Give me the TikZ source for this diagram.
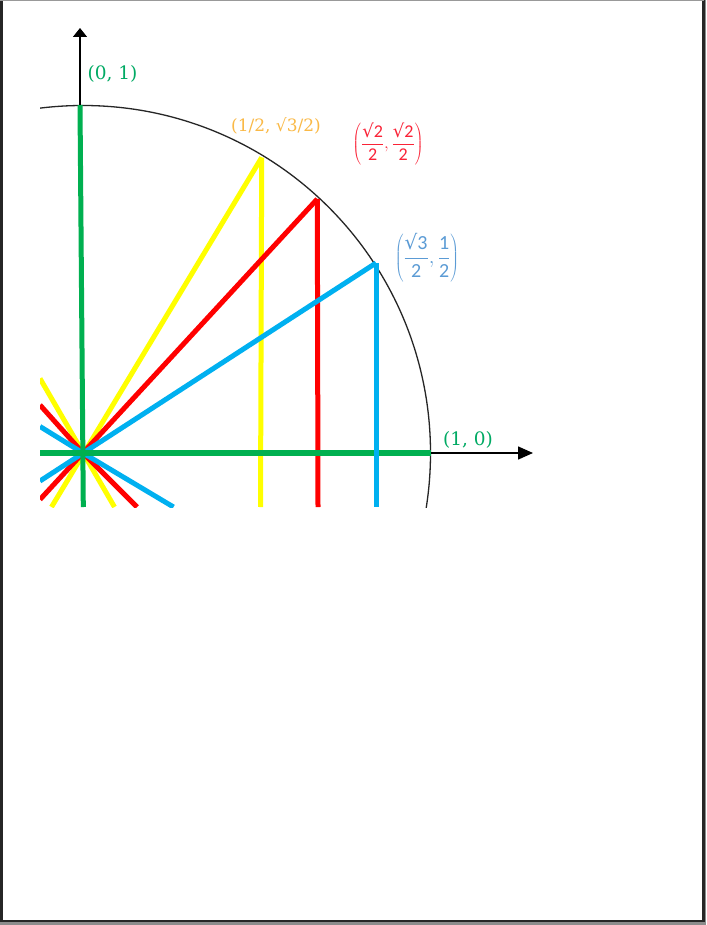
\documentclass[tikz,border=0pt]{standalone}
\usepackage{fontspec}
\usetikzlibrary{arrows.meta}
\newfontfamily\serifl{DejaVu Serif}
\newfontfamily\sansd{DejaVu Sans}
\newfontfamily\calib{Carlito}
\definecolor{cgreen}{RGB}{0,176,80}
\definecolor{cyellow}{RGB}{255,255,0}
\definecolor{cred}{RGB}{255,0,0}
\definecolor{cblue}{RGB}{0,176,240}
\definecolor{tgreen}{RGB}{0,170,100}
\definecolor{torange}{RGB}{250,185,70}
\definecolor{tred}{RGB}{250,35,55}
\definecolor{tblue}{RGB}{91,155,213}
\begin{document}
\begin{tikzpicture}[x=1pt,y=-1pt,
  thick line/.style={line width=5pt},
  ax/.style={line width=1.5pt,black},
  circ/.style={line width=1.3pt,black!85},
  lab/.style={inner sep=0pt,font=\serifl\fontsize{18.5}{22}\selectfont},
  fraclab/.style={inner sep=0pt}]
\useasboundingbox (0,0) rectangle (706,925);
% page frame
\fill[white] (0,0) rectangle (706,925);
\fill[black!45] (703,0) rectangle (706,925);
\fill[black!45] (0,921) rectangle (706,925);
\fill[black!85] (0,0) rectangle (3,921);
\fill[black!85] (702,0) rectangle (704.5,921);
\fill[black!85] (0,919.5) rectangle (704.5,922);
\fill[black!40] (0,0) rectangle (704,1);

% coordinates
\coordinate (O) at (83,453);
\coordinate (Y) at (261.7,157.5);
\coordinate (Yb) at (260.5,507);
\coordinate (Yll) at (51.5,507);
\coordinate (Yul) at (40,378.5);
\coordinate (Ylr) at (114.5,507);
\coordinate (R) at (317.3,199);
\coordinate (Rb) at (318,507);
\coordinate (Rll) at (40,499.5);
\coordinate (Rul) at (40,405);
\coordinate (Rlr) at (137,507);
\coordinate (B) at (376,263);
\coordinate (Bb) at (376,507);
\coordinate (Bll) at (40,481);
\coordinate (Bul) at (40,426.5);
\coordinate (Blr) at (173.5,507);
\coordinate (Gl) at (40,453);
\coordinate (Gr) at (430.5,453);
\coordinate (Gb) at (83.3,507);
\coordinate (Gt) at (80,105);
\coordinate (Yax) at (80,28);
\coordinate (Xax) at (533,453);

\begin{scope}
\clip (40,0) rectangle (706,507);
\draw[circ] (O) circle[radius=347.5];
% yellow
\draw[thick line,cyellow] (Y) -- (Yll);
\draw[thick line,cyellow] (Yul) -- (Ylr);
\draw[thick line,cyellow] (Y) -- (Yb);
% red
\draw[thick line,cred] (R) -- (Rll);
\draw[thick line,cred] (Rul) -- (O) -- (Rlr);
\draw[thick line,cred] (R) -- (Rb);
% blue
\draw[thick line,cblue] (B) -- (Bll);
\draw[thick line,cblue] (Bul) -- (O) -- (Blr);
% green
\draw[line width=6pt,cgreen] (Gl) -- (Gr);
\draw[thick line,cblue] (B) -- (Bb);
\draw[thick line,cgreen] (Gb) -- (Gt);
\end{scope}

% axes
\draw[ax,-{Triangle[length=9pt,width=14pt]}] (Gt) -- (Yax);
\draw[ax,-{Triangle[length=15pt,width=13pt]}] (Gr) -- (Xax);

% labels
\node[lab,text=tgreen] (l01) at (112.5,73.5) {(0, 1)};
\node[lab,text=tgreen] (l10) at (468,440) {(1, 0)};
\node[lab,text=torange,font=\serifl\fontsize{17}{20}\selectfont] (lhalf) at (276,126) {(1/2, {\sansd √}3/2)};
\node[fraclab,text=tred,font=\calib\fontsize{18}{21}\selectfont] (lr2) at (388,144)
  {$\displaystyle\left(\frac{\mbox{\sansd √\calib 2}}{\mbox{2}},\frac{\mbox{\sansd √\calib 2}}{\mbox{2}}\right)$};
\node[fraclab,text=tblue,font=\calib\fontsize{20}{24}\selectfont] (lr3) at (427,258)
  {$\displaystyle\left(\frac{\mbox{\sansd √\calib 3}}{\mbox{2}},\frac{\mbox{1}}{\mbox{2}}\right)$};
\end{tikzpicture}
\end{document}
